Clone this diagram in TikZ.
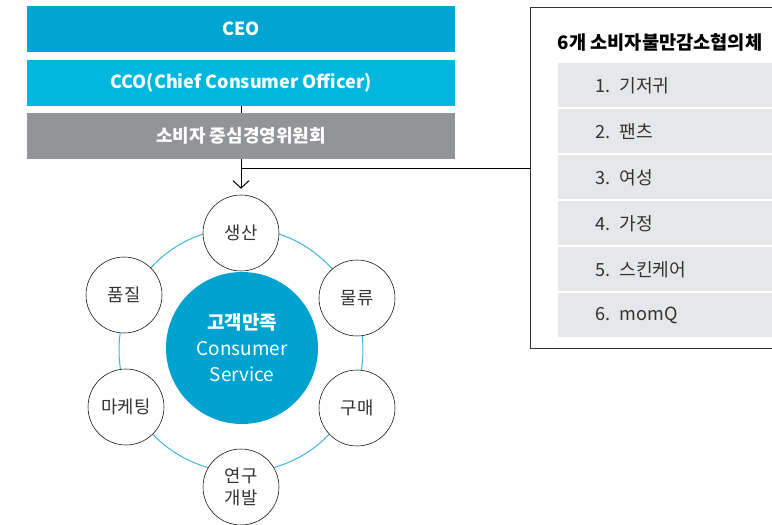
\documentclass[tikz,border=0pt]{standalone}
\usepackage{fontspec}
\setmainfont{Noto Sans CJK KR}
\usepackage{tikz}
\usetikzlibrary{positioning,arrows.meta}
\definecolor{ceoblue}{RGB}{0,165,209}
\definecolor{ccoblue}{RGB}{0,184,222}
\definecolor{votegray}{RGB}{146,148,151}
\definecolor{hubblue}{RGB}{0,163,208}
\definecolor{ringblue}{RGB}{62,181,229}
\definecolor{itemgray}{RGB}{230,231,232}
\definecolor{txt}{RGB}{51,51,51}

\begin{document}
\begin{tikzpicture}[x=0.75pt,y=-0.75pt,
    bar/.style = {minimum width=321pt, minimum height=34.5pt, text=white, font=\bfseries\fontsize{13.5}{16}\selectfont},
    unit/.style = {draw, circle, fill=white, minimum size=57pt, inner sep=0pt, text=txt, align=center, font=\fontsize{13.3}{17}\selectfont},
    item/.style = {fill=itemgray, minimum height=33pt, text width=150pt, inner xsep=27.75pt, align=left, text=txt, font=\fontsize{13.6}{16}\selectfont}]
            \useasboundingbox (0,0) rectangle (772,525);
            \node[bar, fill=ceoblue] (ceo) at (241,29) {CEO};
            \node[bar, fill=ccoblue] (cco) [below=5.25pt of ceo] {CCO(Chief Consumer Officer)};
            \node[bar, fill=votegray] (vote) [below=5.25pt of cco] {소비자 중심경영위원회};
            \draw[line width=0.75pt] (cco) -- (vote);

            \draw[draw=txt, line width=0.75pt] (530,7) rectangle (800,348);
            \coordinate (panel) at (530,168);
            \node[anchor=west, font=\bfseries\fontsize{14}{16}\selectfont] (title) at (553,42) {6개 소비자불만감소협의체};
            \node[item, anchor=north west] (i1) at (558,63) {1. 기저귀};
            \node[item] (i2) [below=1.1pt of i1] {2. 팬츠};
            \node[item] (i3) [below=1.1pt of i2] {3. 여성};
            \node[item] (i4) [below=1.1pt of i3] {4. 가정};
            \node[item] (i5) [below=1.1pt of i4] {5. 스킨케어};
            \node[item] (i6) [below=1.1pt of i5] {6. momQ};

            \node[circle, fill=hubblue, minimum size=114pt, inner sep=0pt, text=white, align=center, font=\fontsize{14.2}{19.5}\selectfont] (hub) at (242,348) {\textbf{고객만족}\\Consumer\\Service};
            \draw[ringblue, line width=0.75pt] (241,350) circle (91.5pt);
            \node[unit] (1) at (241,233) {생산};
            \node[unit] (2) at (357,298) {물류};
            \node[unit] (3) at (357,408) {구매};
            \node[unit] (4) at (241,487) {연구\\개발};
            \node[unit] (5) at (126,407) {마케팅};
            \node[unit] (6) at (124,295) {품질};

            \coordinate (jn) at (vote.south |- panel);
            \draw[line width=0.75pt, -{Straight Barb[length=5.5pt,width=12pt]}, shorten >=4.5pt] (vote.south) -- (1.north);
            \draw[line width=0.75pt] (jn) -- (panel);
        \end{tikzpicture}
\end{document}
